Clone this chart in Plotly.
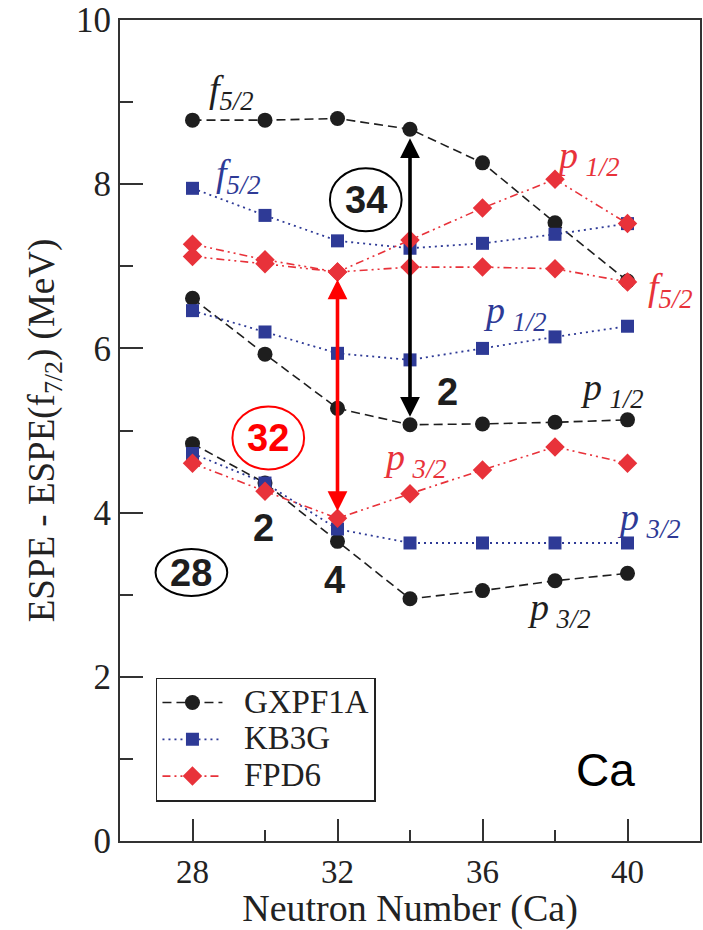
import plotly.graph_objects as go

N = [28, 30, 32, 34, 36, 38, 40]

# GXPF1A (black circles)
gx_f52 = [8.78, 8.78, 8.80, 8.67, 8.26, 7.53, 6.82]
gx_p12 = [6.61, 5.93, 5.27, 5.07, 5.08, 5.10, 5.13]
gx_p32 = [4.84, 4.36, 3.65, 2.95, 3.05, 3.17, 3.26]

# KB3G (blue squares)
kb_f52 = [7.95, 7.62, 7.31, 7.22, 7.28, 7.39, 7.52]
kb_p12 = [6.46, 6.20, 5.94, 5.86, 6.00, 6.14, 6.27]
kb_p32 = [4.72, 4.36, 3.80, 3.63, 3.63, 3.63, 3.63]

# FPD6 (red diamonds)
fp_p12 = [7.27, 7.08, 6.93, 7.32, 7.71, 8.06, 7.52]
fp_f52 = [7.12, 7.03, 6.93, 6.99, 6.99, 6.97, 6.81]
fp_p32 = [4.60, 4.26, 3.93, 4.23, 4.52, 4.80, 4.60]

model_names = ["GXPF1A", "KB3G", "FPD6"]

BLACK = "#1e1e1e"
BLUE = "#2e3a96"
RED = "#e8323a"
SERIF = "Liberation Serif, Times New Roman, DejaVu Serif, serif"
SANS = "Liberation Sans, Arial, sans-serif"
TXT = "#222"


def joined(*series):
    xs, ys = [], []
    for s in series:
        xs += N + [None]
        ys += s + [None]
    return xs, ys


def legname(s):
    return '<span style="font-size:33px">\u00a0\u00a0' + s + '</span>'


fig = go.Figure()

xs, ys = joined(gx_f52, gx_p12, gx_p32)
fig.add_trace(go.Scatter(x=xs, y=ys, mode="lines+markers", name=legname(model_names[0]),
                         line=dict(color=BLACK, width=1.6, dash="9px,5px"),
                         marker=dict(symbol="circle", size=15, color=BLACK)))
xs, ys = joined(kb_f52, kb_p12, kb_p32)
fig.add_trace(go.Scatter(x=xs, y=ys, mode="lines+markers", name=legname(model_names[1]),
                         line=dict(color=BLUE, width=1.8, dash="2px,4px"),
                         marker=dict(symbol="square", size=13, color=BLUE)))
xs, ys = joined(fp_p12, fp_f52, fp_p32)
fig.add_trace(go.Scatter(x=xs, y=ys, mode="lines+markers", name=legname(model_names[2]),
                         line=dict(color=RED, width=1.6, dash="8px,4px,2px,4px,2px,4px"),
                         marker=dict(symbol="diamond", size=15, color=RED)))

ann = []


def lab(x, y, main, sub, color, size=38):
    ann.append(dict(x=x, y=y, xref="x", yref="y", showarrow=False,
                    text=f"<i>{main}</i><sub><i>{sub}</i></sub>",
                    font=dict(family=SERIF, size=size, color=color)))


lab(29.07, 9.12, "f", "5/2", BLACK)
lab(29.26, 8.10, "f", "5/2", BLUE)
lab(38.9, 8.32, "p\u2009", "1/2", RED)
lab(36.9, 6.43, "p\u2009", "1/2", BLUE)
lab(41.19, 6.71, "f", "5/2", RED)
lab(39.57, 5.49, "p\u2009", "1/2", BLACK)
lab(34.13, 4.64, "p\u2009", "3/2", RED)
lab(40.6, 3.91, "p\u2009", "3/2", BLUE)
lab(38.1, 2.81, "p\u2009", "3/2", BLACK)


def num(x, y, t, color=BLACK, size=38):
    ann.append(dict(x=x, y=y, xref="x", yref="y", showarrow=False, text=f"<b>{t}</b>",
                    font=dict(family=SANS, size=size, color=color)))


num(32.78, 7.81, "34")
num(30.09, 4.91, "32", "#ff0000")
num(27.97, 3.27, "28")
num(35.03, 5.47, "2")
num(29.95, 3.81, "2")
num(31.93, 3.18, "4")

ann.append(dict(x=39.40, y=0.87, xref="x", yref="y", showarrow=False, text="Ca",
                font=dict(family=SANS, size=46, color="black")))

# double-headed arrows
for x, y0, y1, c in [(34, 5.15, 8.56, "black"), (32, 4.0, 6.84, "#ff0000")]:
    ann.append(dict(x=x, y=y1, ax=x, ay=y0, xref="x", yref="y", axref="x", ayref="y",
                    showarrow=True, arrowhead=2, startarrowhead=2, arrowside="end+start",
                    arrowsize=1.1, startarrowsize=1.1, arrowwidth=3.6, arrowcolor=c, text=""))

shapes = []
for cx, cy, w, h, c in [(32.78, 7.81, 72, 63, "black"), (30.09, 4.91, 72, 63, "#ff0000"),
                        (27.97, 3.27, 72, 47, "black")]:
    dx = w / 2 / 36.4
    dy = h / 2 / 82.1
    shapes.append(dict(type="circle", xref="x", yref="y", x0=cx - dx, x1=cx + dx,
                       y0=cy - dy, y1=cy + dy, line=dict(color=c, width=2)))

fig.update_layout(
    width=703, height=930,
    margin=dict(l=120, r=1, t=20, b=89),
    paper_bgcolor="white", plot_bgcolor="white",
    annotations=ann, shapes=shapes,
    font=dict(family=SERIF, size=34, color=TXT),
    legend=dict(x=0.062, y=0.199, xanchor="left", yanchor="top",
                bordercolor="#222", borderwidth=1.5, bgcolor="white",
                font=dict(family=SERIF, size=26, color=TXT),
                itemwidth=60, tracegroupgap=0),
    xaxis=dict(range=[26, 42], tickvals=[28, 32, 36, 40], ticks="inside", ticklen=22,
               tickwidth=1.5, tickcolor="#333", showline=True, linecolor="#333", linewidth=2,
               mirror=True, showgrid=False, zeroline=False,
               minor=dict(tickvals=[30, 34, 38], ticks="inside", ticklen=11, tickwidth=1.5, tickcolor="#333"),
               tickfont=dict(family=SERIF, size=33, color=TXT),
               title=dict(text="Neutron Number (Ca)", font=dict(family=SERIF, size=38, color=TXT), standoff=2)),
    yaxis=dict(range=[0, 10], tickvals=[0, 2, 4, 6, 8, 10], ticks="inside", ticklen=23,
               tickwidth=1.5, tickcolor="#333", showline=True, linecolor="#333", linewidth=2,
               mirror=True, showgrid=False, zeroline=False,
               minor=dict(tickvals=[1, 3, 5, 7, 9], ticks="inside", ticklen=13, tickwidth=1.5, tickcolor="#333"),
               tickfont=dict(family=SERIF, size=35, color=TXT),
               title=dict(text="ESPE - ESPE(f<sub>7/2</sub>) (MeV)", font=dict(family=SERIF, size=37, color=TXT), standoff=10)),
    showlegend=True,
)

fig.write_html("out.html")
